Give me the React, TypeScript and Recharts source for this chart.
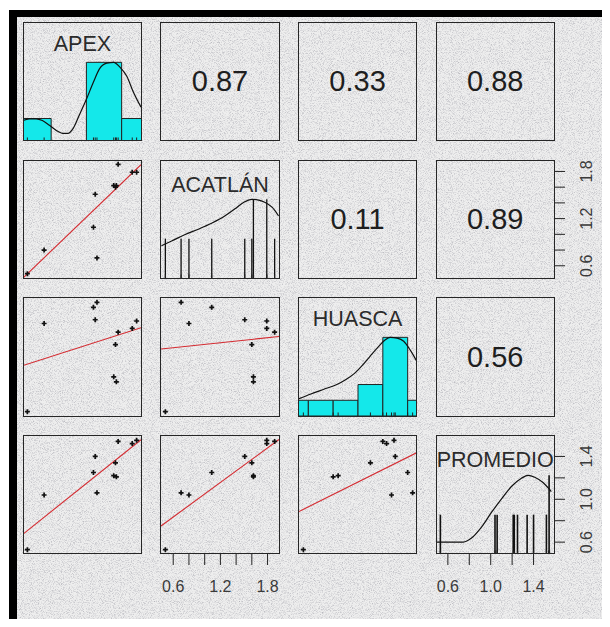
import React from "react"
import {
  ComposedChart, XAxis, YAxis, Scatter, Line,
  ReferenceLine, ReferenceArea,
} from "recharts"

// 11 sites, one array per variable (same order in each)
const names = ["APEX", "ACATLÁN", "HUASCA", "PROMEDIO"]
const apex = [0.33, 0.52, 1.08, 1.10, 1.12, 1.33, 1.31, 1.34, 1.36, 1.52, 1.57]
const acatlan = [0.50, 0.80, 1.09, 1.51, 0.70, 1.60, 1.62, 1.62, 1.89, 1.79, 1.79]
const huasca = [0.56, 1.27, 1.40, 1.30, 1.44, 1.10, 0.84, 0.80, 1.20, 1.23, 1.29]
const promedio = [0.53, 1.04, 1.25, 1.40, 1.06, 1.34, 1.22, 1.21, 1.54, 1.52, 1.55]
const values = [apex, acatlan, huasca, promedio]

// correlations in the upper panels, key "row-col"
const corrText: Record<string, string> = {
  "0-1": "0.87", "0-2": "0.33", "0-3": "0.88",
  "1-2": "0.11", "1-3": "0.89",
  "2-3": "0.56",
}

// histograms on the diagonal
const apexBreaks = [0.2, 0.6, 1.0, 1.4, 1.8]
const apexCounts = [2, 0, 7, 2]
const huascaBreaks = [0.4, 0.6, 0.8, 1.0, 1.2, 1.4, 1.6]
const huascaCounts = [1, 1, 1, 2, 5, 1]
// ACATLÁN / PROMEDIO came out with very narrow bins -> just lines
const acatlanBarX = [0.50, 0.70, 0.80, 1.09, 1.51, 1.60, 1.62, 1.79, 1.89]
const acatlanBarN = [1, 1, 1, 1, 1, 1, 2, 2, 1]
const promedioBarX = [0.53, 1.04, 1.06, 1.21, 1.22, 1.25, 1.34, 1.40, 1.52, 1.545]
const promedioBarN = [1, 1, 1, 1, 1, 1, 1, 1, 1, 2]

// density curves (max = 1)
const apexDensX = [0.28, 0.35, 0.43, 0.50, 0.58, 0.68, 0.73, 0.79, 0.85, 0.92, 1.00, 1.08, 1.15, 1.23, 1.31, 1.38, 1.46, 1.53, 1.62]
const apexDensY = [0.26, 0.28, 0.28, 0.26, 0.2, 0.12, 0.097, 0.097, 0.16, 0.33, 0.53, 0.75, 0.92, 0.99, 1.0, 0.94, 0.82, 0.63, 0.43]
const acatlanDensX = [0.45, 0.58, 0.745, 0.92, 1.088, 1.26, 1.386, 1.494, 1.60, 1.686, 1.77, 1.857, 1.94]
const acatlanDensY = [0.41, 0.47, 0.55, 0.62, 0.695, 0.79, 0.88, 0.96, 1.0, 0.99, 0.96, 0.9, 0.79]
const huascaDensX = [0.525, 0.62, 0.725, 0.83, 0.90, 0.967, 1.033, 1.10, 1.167, 1.22, 1.26, 1.315, 1.368, 1.42, 1.475]
const huascaDensY = [0.22, 0.28, 0.34, 0.4, 0.46, 0.535, 0.64, 0.765, 0.885, 0.97, 1.0, 0.99, 0.95, 0.84, 0.69]
const promedioDensX = [0.49, 0.744, 0.821, 0.914, 1.007, 1.101, 1.193, 1.287, 1.349, 1.411, 1.488, 1.566]
const promedioDensY = [0.152, 0.152, 0.203, 0.342, 0.528, 0.701, 0.858, 0.963, 1.0, 0.976, 0.908, 0.794]
const densX = [apexDensX, acatlanDensX, huascaDensX, promedioDensX]
const densY = [apexDensY, acatlanDensY, huascaDensY, promedioDensY]

// lm lines in the lower panels: y at the left / right panel edge, key "row-col"
const fitLeft: Record<string, number> = { "1-0": 0.444, "2-0": 0.931, "2-1": 1.065, "3-0": 0.675, "3-1": 0.751, "3-2": 0.886 }
const fitRight: Record<string, number> = { "1-0": 1.886, "2-0": 1.236, "2-1": 1.165, "3-0": 1.556, "3-1": 1.558, "3-2": 1.436 }

// axis ticks (only ACATLÁN and PROMEDIO get axes)
const acatlanTicks = [0.6, 0.8, 1.0, 1.2, 1.4, 1.6, 1.8]
const acatlanTickLabels = ["0.6", "", "", "1.2", "", "", "1.8"]
const promedioTicks = [0.6, 0.8, 1.0, 1.2, 1.4]
const promedioTickLabels = ["0.6", "", "1.0", "", "1.4"]
const axisTicks: Record<number, number[]> = { 1: acatlanTicks, 3: promedioTicks }
const axisLabels: Record<number, string[]> = { 1: acatlanTickLabels, 3: promedioTickLabels }

const X0 = 23.4
const Y0 = 22.8
const PITCH = 137.6
const SIZE = 118
const AXIS = 45
const CYAN = "#14e8ea"
const FONT = "'Liberation Sans', Arial, sans-serif"
const labelDy = [22, 25.5, 21.7, 24.8]

function domainOf(v: number[]): [number, number] {
  const lo = Math.min(...v)
  const hi = Math.max(...v)
  const pad = (hi - lo) * 0.04
  return [lo - pad, hi + pad]
}
const domains = values.map(domainOf)

const Plus = (p: any) => (
  <path
    d={`M${p.cx - 2.5},${p.cy}H${p.cx + 2.5}M${p.cx},${p.cy - 2.5}V${p.cy + 2.5}`}
    stroke="#111"
    strokeWidth={1.7}
  />
)

function bottomTick(p: any, ticks: number[], labels: string[]) {
  const t = labels[ticks.indexOf(p.payload.value)]
  if (!t) return <g />
  return (
    <text x={p.x} y={p.y + 25} textAnchor="middle" fontSize={16} fill="#3a3a3a" fontFamily={FONT}>{t}</text>
  )
}

function rightTick(p: any, ticks: number[], labels: string[]) {
  const t = labels[ticks.indexOf(p.payload.value)]
  if (!t) return <g />
  return (
    <text transform={`translate(${p.x + 24.5},${p.y}) rotate(-90)`} textAnchor="middle" fontSize={16} fill="#3a3a3a" fontFamily={FONT}>{t}</text>
  )
}

function Cell({ row, col }: { row: number; col: number }) {
  const left = X0 + col * PITCH
  const top = Y0 + row * PITCH
  const showX = row === 3 && col % 2 === 1
  const showY = col === 3 && row % 2 === 1
  const xd = domains[col]
  const yd = domains[row]
  const diag = row === col
  const lower = row > col
  const key = `${row}-${col}`
  const pts = values[col].map((x, i) => ({ x, y: values[row][i] }))
  const dens = diag ? densX[col].map((x, i) => ({ x, y: densY[col][i] })) : []

  return (
    <div style={{ position: "absolute", left, top }}>
      <ComposedChart width={SIZE + (showY ? AXIS : 0)} height={SIZE + (showX ? AXIS : 0)} margin={{ top: 0, right: 0, bottom: 0, left: 0 }}>
        <XAxis
          type="number"
          dataKey="x"
          domain={xd}
          allowDataOverflow
          hide={!showX}
          height={AXIS}
          ticks={showX ? axisTicks[col] : undefined}
          interval={0}
          tickSize={11}
          tickMargin={2}
          axisLine={false}
          tickLine={{ stroke: "#222", strokeWidth: 1 }}
          tick={showX ? (p: any) => bottomTick(p, axisTicks[col], axisLabels[col]) : false}
        />
        <YAxis
          yAxisId="val"
          type="number"
          dataKey="y"
          orientation="right"
          domain={yd}
          allowDataOverflow
          hide={!showY}
          width={AXIS}
          ticks={showY ? axisTicks[row] : undefined}
          interval={0}
          tickSize={11}
          tickMargin={2}
          axisLine={false}
          tickLine={{ stroke: "#222", strokeWidth: 1 }}
          tick={showY ? (p: any) => rightTick(p, axisTicks[row], axisLabels[row]) : false}
        />
        <YAxis yAxisId="dens" type="number" dataKey="y" domain={[0, 1.5]} allowDataOverflow hide />

        {diag && col === 0 && apexCounts.map((c, i) => c > 0 && (
          <ReferenceArea key={`h${i}`} yAxisId="dens" x1={apexBreaks[i]} x2={apexBreaks[i + 1]} y1={0} y2={c / Math.max(...apexCounts)}
            ifOverflow="hidden" fill={CYAN} fillOpacity={1} stroke="#222" strokeWidth={1} />
        ))}
        {diag && col === 2 && huascaCounts.map((c, i) => (
          <ReferenceArea key={`h${i}`} yAxisId="dens" x1={huascaBreaks[i]} x2={huascaBreaks[i + 1]} y1={0} y2={c / Math.max(...huascaCounts)}
            ifOverflow="hidden" fill={CYAN} fillOpacity={1} stroke="#222" strokeWidth={1} />
        ))}
        {diag && col === 1 && acatlanBarX.map((x, i) => (
          <ReferenceLine key={`b${i}`} yAxisId="dens" segment={[{ x, y: 0 }, { x, y: acatlanBarN[i] / Math.max(...acatlanBarN) }]}
            ifOverflow="hidden" stroke="#111" strokeWidth={1.3} />
        ))}
        {diag && col === 3 && promedioBarX.map((x, i) => (
          <ReferenceLine key={`b${i}`} yAxisId="dens" segment={[{ x, y: 0 }, { x, y: promedioBarN[i] / Math.max(...promedioBarN) }]}
            ifOverflow="hidden" stroke="#111" strokeWidth={1.6} />
        ))}
        {diag && values[col].map((x, i) => (
          <ReferenceLine key={`r${i}`} yAxisId="dens" segment={[{ x, y: 0 }, { x, y: 0.045 }]}
            ifOverflow="hidden" stroke="#222" strokeWidth={1} />
        ))}
        {diag && (
          <Line yAxisId="dens" data={dens} dataKey="y" type="monotone" stroke="#111" strokeWidth={1.2}
            dot={false} activeDot={false} isAnimationActive={false} />
        )}

        {lower && (
          <ReferenceLine yAxisId="val" segment={[{ x: xd[0], y: fitLeft[key] }, { x: xd[1], y: fitRight[key] }]}
            ifOverflow="hidden" stroke="#d42a30" strokeWidth={1.1} />
        )}
        {lower && (
          <Scatter yAxisId="val" data={pts} dataKey="y" shape={Plus} isAnimationActive={false} />
        )}
      </ComposedChart>

      <div style={{
        position: "absolute", left: -0.6, top: -0.6, width: SIZE + 1.2, height: SIZE + 1.2,
        border: "1.3px solid #262626", boxSizing: "border-box", pointerEvents: "none",
      }} />

      {diag && (
        <div style={{
          position: "absolute", left: -40, width: SIZE + 80, top: labelDy[col] - 10.5,
          textAlign: "center", fontSize: 21.5, lineHeight: 1, color: "#2b2b2b", fontFamily: FONT,
        }}>{names[col]}</div>
      )}
      {corrText[key] && (
        <div style={{
          position: "absolute", left: 0, top: 0, width: SIZE, height: SIZE,
          display: "flex", alignItems: "center", justifyContent: "center",
          fontSize: 29, lineHeight: 1, color: "#1e1e1e", fontFamily: FONT,
        }}>{corrText[key]}</div>
      )}
    </div>
  )
}

export default function App() {
  const cells = []
  for (let r = 0; r < 4; r++) for (let c = 0; c < 4; c++) cells.push(<Cell key={`${r}-${c}`} row={r} col={c} />)

  return (
    <div style={{ position: "relative", margin: -8, width: 610, height: 627, background: "#fff", overflow: "hidden", fontFamily: FONT }}>
      <div style={{
        position: "absolute", left: 9, top: 10, width: 620, height: 617, boxSizing: "border-box",
        borderLeft: "8px solid #000", borderTop: "7px solid #000", borderBottom: "7px solid #000",
        background: "#eeeeee", overflow: "hidden",
      }}>
        <svg width={620} height={617} style={{ position: "absolute", left: 0, top: 0 }}>
          <filter id="grain" x="0" y="0" width="100%" height="100%">
            <feTurbulence type="fractalNoise" baseFrequency="1.1" numOctaves={2} seed={7} />
            <feColorMatrix type="matrix" values="0 0 0 0 0.42  0 0 0 0 0.42  0 0 0 0 0.46  1.9 0 0 0 -0.85" />
          </filter>
          <rect width="100%" height="100%" filter="url(#grain)" />
        </svg>
      </div>
      {cells}
    </div>
  )
}
